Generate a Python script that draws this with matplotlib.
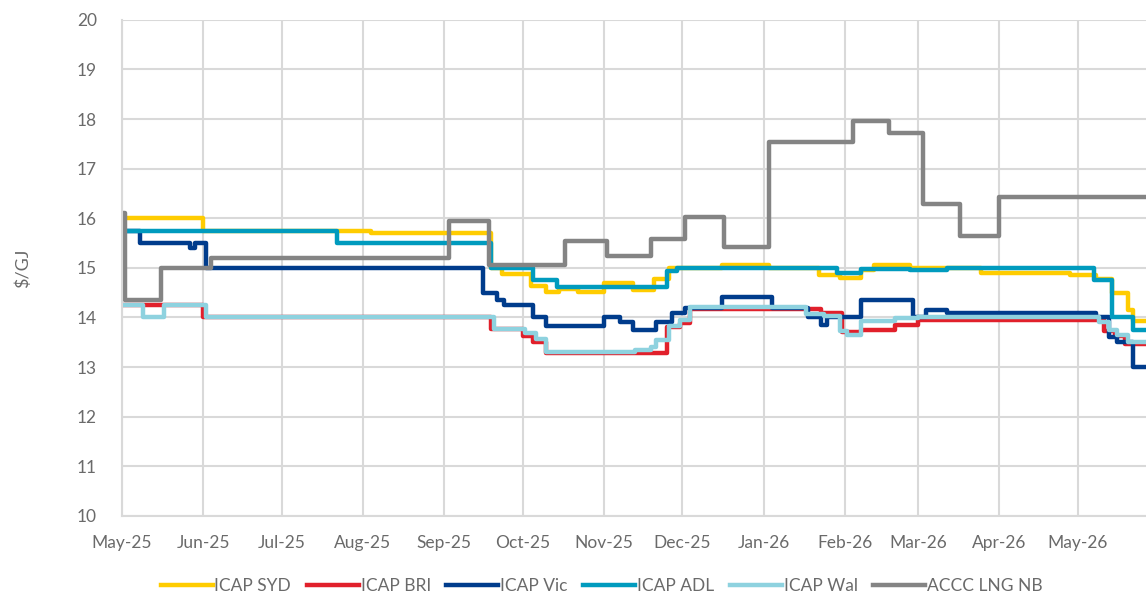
import matplotlib
matplotlib.use("Agg")
import matplotlib.pyplot as plt
import matplotlib.dates as mdates
import pandas as pd

# === Data (step breakpoints) ===
end_date = "2026-05-27"

syd_dates = ["2025-05-01", "2025-06-01", "2025-08-04", "2025-09-19", "2025-09-23", "2025-10-04",
             "2025-10-10", "2025-10-15", "2025-10-22", "2025-11-01", "2025-11-12", "2025-11-20",
             "2025-11-26", "2025-12-16", "2026-01-03", "2026-01-22", "2026-01-30", "2026-02-07",
             "2026-02-12", "2026-02-26", "2026-03-25", "2026-04-28", "2026-05-08", "2026-05-14",
             "2026-05-20", "2026-05-22"]
syd_vals = [16.0, 15.75, 15.7, 15.0, 14.88, 14.63, 14.52, 14.58, 14.52, 14.7, 14.56, 14.78,
            15.0, 15.05, 15.0, 14.86, 14.8, 14.95, 15.05, 15.0, 14.9, 14.86, 14.78, 14.5,
            14.15, 13.92]

bri_dates = ["2025-05-01", "2025-06-01", "2025-09-19", "2025-10-01", "2025-10-05", "2025-10-10",
             "2025-11-25", "2025-11-30", "2025-12-04", "2026-01-23", "2026-01-31", "2026-02-07",
             "2026-02-20", "2026-03-01", "2026-05-11", "2026-05-15", "2026-05-19"]
bri_vals = [14.25, 14.0, 13.76, 13.63, 13.51, 13.28, 13.8, 13.89, 14.18, 14.09, 13.7, 13.75,
            13.85, 13.95, 13.72, 13.62, 13.47]

vic_dates = ["2025-05-01", "2025-05-08", "2025-05-27", "2025-05-29", "2025-06-02", "2025-09-16",
             "2025-09-21", "2025-09-24", "2025-10-05", "2025-10-10", "2025-11-01", "2025-11-07",
             "2025-11-12", "2025-11-21", "2025-11-27", "2025-12-02", "2025-12-16", "2026-01-04",
             "2026-01-18", "2026-01-23", "2026-01-25", "2026-02-07", "2026-02-27", "2026-03-04",
             "2026-03-12", "2026-05-08", "2026-05-13", "2026-05-16", "2026-05-22"]
vic_vals = [15.75, 15.5, 15.4, 15.5, 15.0, 14.5, 14.35, 14.25, 14.02, 13.82, 14.02, 13.9,
            13.75, 13.9, 14.1, 14.19, 14.42, 14.2, 14.02, 13.85, 14.02, 14.35, 14.02, 14.15,
            14.1, 14.0, 13.6, 13.5, 13.0]

adl_dates = ["2025-05-01", "2025-07-22", "2025-09-19", "2025-10-05", "2025-10-14", "2025-11-25",
             "2025-11-29", "2026-01-29", "2026-02-07", "2026-02-26", "2026-03-12", "2026-05-07",
             "2026-05-14", "2026-05-22"]
adl_vals = [15.75, 15.5, 15.0, 14.76, 14.62, 14.93, 15.0, 14.9, 14.97, 14.95, 15.0, 14.76,
            14.02, 13.75]

wal_dates = ["2025-05-01", "2025-05-09", "2025-05-17", "2025-06-02", "2025-09-20", "2025-10-02",
             "2025-10-06", "2025-10-10", "2025-11-13", "2025-11-19", "2025-11-21", "2025-11-26",
             "2025-11-30", "2025-12-04", "2026-01-17", "2026-01-24", "2026-01-30", "2026-02-02",
             "2026-02-07", "2026-02-20", "2026-03-01", "2026-05-09", "2026-05-13", "2026-05-16",
             "2026-05-20"]
wal_vals = [14.25, 14.0, 14.25, 14.0, 13.76, 13.68, 13.56, 13.31, 13.35, 13.41, 13.55, 13.82,
            13.95, 14.21, 14.08, 14.03, 13.72, 13.65, 13.92, 13.98, 14.0, 13.9, 13.75, 13.65,
            13.51]

lng_dates = ["2025-05-01", "2025-05-02", "2025-05-16", "2025-06-04", "2025-09-03", "2025-09-18",
             "2025-10-17", "2025-11-02", "2025-11-19", "2025-12-02", "2025-12-17", "2026-01-03",
             "2026-02-04", "2026-02-18", "2026-03-03", "2026-03-17", "2026-04-01"]
lng_vals = [16.1, 14.35, 15.0, 15.2, 15.95, 15.06, 15.55, 15.24, 15.58, 16.02, 15.42, 17.53,
            17.97, 17.72, 16.29, 15.65, 16.43]

series = [
    ("ICAP SYD", syd_dates, syd_vals, "#FFCC00"),
    ("ICAP BRI", bri_dates, bri_vals, "#E1202B"),
    ("ICAP Vic", vic_dates, vic_vals, "#003C8C"),
    ("ICAP ADL", adl_dates, adl_vals, "#009BBE"),
    ("ICAP Wal", wal_dates, wal_vals, "#8ED2DF"),
    ("ACCC LNG NB", lng_dates, lng_vals, "#848484"),
]

# === Plot ===
plt.rcParams['font.family'] = ['Lato', 'DejaVu Sans']
fig = plt.figure(figsize=(11.46, 6.02), dpi=100)
ax = fig.add_axes([0.1065, 0.143, 0.8935, 0.824])

for name, d, v, c in series:
    x = pd.to_datetime(d + [end_date])
    y = v + [v[-1]]
    ax.plot(x, y, drawstyle="steps-post", color=c, lw=3.2, label=name)

ax.set_ylim(10, 20)
ax.set_yticks(range(10, 21))
ax.set_xlim(pd.Timestamp("2025-05-01"), pd.Timestamp(end_date))
ax.xaxis.set_major_locator(mdates.MonthLocator())
ax.xaxis.set_major_formatter(mdates.DateFormatter("%b-%y"))

ax.grid(True, color="#D9D9D9", lw=1.5)
ax.set_axisbelow(True)
for s in ["top", "right"]:
    ax.spines[s].set_visible(False)
for s in ["left", "bottom"]:
    ax.spines[s].set_color("#D9D9D9")
    ax.spines[s].set_linewidth(1.5)
ax.tick_params(length=0, labelsize=12.5, labelcolor="#6A6A6A")
ax.tick_params(axis="x", pad=14)
ax.tick_params(axis="y", pad=18)
ax.set_ylabel("\\$/GJ", fontsize=13, color="#6A6A6A", labelpad=33)

fig.legend(loc="lower center", bbox_to_anchor=(0.525, -0.012), ncol=6, frameon=False,
           fontsize=12.5, handlelength=3.0, columnspacing=0.9, handletextpad=0.1,
           labelcolor="#6A6A6A")

plt.savefig("out.png", dpi=100)
